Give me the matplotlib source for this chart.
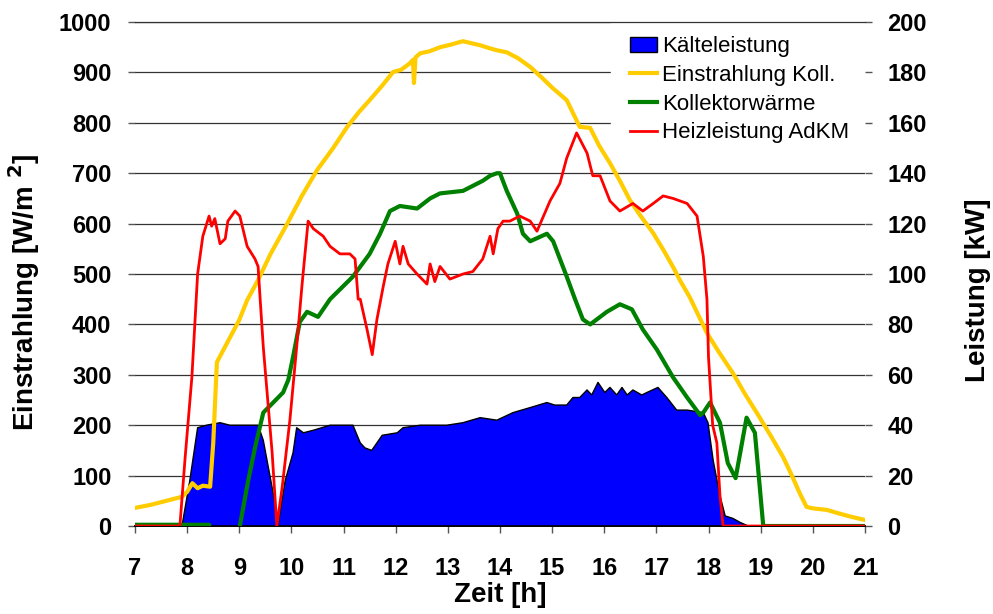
import matplotlib
matplotlib.use('Agg')
import matplotlib.pyplot as plt
from matplotlib.patches import Patch

plt.rcParams['font.family'] = ['Liberation Sans', 'DejaVu Sans']

# ── Daten ─────────────────────────────────────────────────────────────────
# Einstrahlung Koll. [W/m2]
t_irr = [7.0, 7.3, 7.6, 7.9, 8.0, 8.1, 8.2, 8.3, 8.44, 8.5, 8.57, 8.8, 9.0, 9.15,
         9.36, 9.6, 9.92, 10.2, 10.49, 10.8, 11.07, 11.3, 11.5, 11.75, 11.95, 12.1,
         12.27, 12.33, 12.35, 12.38, 12.47, 12.65, 12.85, 13.05, 13.29, 13.45, 13.62,
         13.8, 13.94, 14.13, 14.35, 14.58, 14.8, 15.0, 15.28, 15.53, 15.73, 15.9,
         16.11, 16.3, 16.49, 16.7, 16.94, 17.15, 17.32, 17.45, 17.64, 17.97, 18.2,
         18.47, 18.7, 18.93, 19.2, 19.43, 19.6, 19.75, 19.88, 20.0, 20.27, 20.5,
         20.75, 21.0]
irr = [36, 42, 50, 58, 68, 85, 75, 80, 78, 165, 325, 370, 409, 448,
       488, 540, 600, 655, 706, 750, 792, 822, 845, 875, 901, 905,
       918, 925, 879, 930, 938, 942, 950, 955, 962, 958, 954,
       948, 944, 940, 928, 911, 890, 870, 845, 792, 790, 755,
       720, 685, 647, 615, 581, 545, 514, 488, 454, 383, 345,
       303, 262, 224, 178, 137, 100, 65, 38, 35, 32, 25,
       18, 12]

# Kälteleistung [kW]
t_kalt = [7.0, 7.9, 8.05, 8.2, 8.37, 8.63, 8.82, 9.15, 9.36, 9.46, 9.65, 9.74,
          9.88, 10.03, 10.1, 10.23, 10.42, 10.74, 11.18, 11.32, 11.41, 11.54,
          11.64, 11.74, 12.03, 12.14, 12.47, 12.98, 13.29, 13.62, 13.94, 14.25,
          14.58, 14.9, 15.05, 15.28, 15.4, 15.53, 15.67, 15.76, 15.88, 16.01,
          16.11, 16.24, 16.34, 16.44, 16.55, 16.72, 16.82, 17.03, 17.2, 17.39,
          17.59, 17.9, 17.99, 18.09, 18.22, 18.32, 18.47, 18.6, 18.76, 21.0]
kalt = [0, 0, 18, 39, 40, 41, 40, 40, 40, 34, 13, 0,
        18, 29, 39, 37, 38, 40, 40, 33, 31, 30,
        33, 36, 37, 39, 40, 40, 41, 43, 42, 45,
        47, 49, 48, 48, 51, 51, 54, 52, 57, 53,
        55, 52, 55, 52, 54, 52, 53, 55, 51, 46,
        46, 45, 41, 26, 12, 4, 3, 1.5, 0, 0]

# Kollektorwärme [kW]
t_koll = [7.0, 8.42, 8.46, 8.95, 9.01, 9.17, 9.3, 9.46, 9.65, 9.84, 9.94, 10.03,
          10.16, 10.3, 10.51, 10.74, 11.18, 11.5, 11.7, 11.89, 12.08, 12.41,
          12.66, 12.85, 13.29, 13.48, 13.67, 13.81, 13.94, 14.0, 14.13, 14.33,
          14.44, 14.58, 14.9, 15.02, 15.28, 15.44, 15.59, 15.73, 16.05, 16.3,
          16.53, 16.74, 17.01, 17.32, 17.59, 17.84, 17.9, 18.03, 18.22, 18.37,
          18.52, 18.73, 18.89, 19.05, 21.0]
koll = [0.5, 0.5, -5, -5, 0, 18, 31, 45, 49, 53, 58, 67,
        81, 85, 83, 90, 99, 108, 116, 125, 127, 126,
        130, 132, 133, 135, 137, 139, 140, 140, 133, 124,
        116, 113, 116, 113, 99, 90, 82, 80, 85, 88,
        86, 78, 70, 59, 51, 44, 45, 49, 41, 25,
        19, 43, 37, 0, 0]

# Heizleistung AdKM [kW]
t_heiz = [7.0, 7.86, 7.96, 8.09, 8.2, 8.3, 8.42, 8.47, 8.53, 8.63, 8.73, 8.78,
          8.92, 9.01, 9.15, 9.3, 9.36, 9.4, 9.46, 9.63, 9.72, 9.82, 9.97, 10.1,
          10.2, 10.32, 10.42, 10.61, 10.74, 10.93, 11.12, 11.22, 11.28, 11.32,
          11.45, 11.55, 11.64, 11.76, 11.85, 11.99, 12.08, 12.14, 12.24, 12.41,
          12.6, 12.66, 12.75, 12.85, 13.04, 13.29, 13.48, 13.67, 13.81, 13.87,
          13.96, 14.06, 14.19, 14.38, 14.58, 14.71, 14.96, 15.15, 15.28, 15.47,
          15.67, 15.78, 15.92, 16.11, 16.3, 16.55, 16.74, 16.94, 17.13, 17.32,
          17.59, 17.78, 17.9, 17.97, 18.0, 18.08, 18.16, 18.22, 18.28, 21.0]
heiz = [0, 0, 27, 59, 100, 115, 123, 119, 122, 112, 114, 121,
        125, 123, 111, 106, 103, 90, 71, 29, 0, 15, 42, 71,
        95, 121, 118, 115, 111, 108, 108, 106, 90, 90,
        78, 68, 82, 95, 104, 113, 104, 111, 104, 100,
        96, 104, 97, 103, 98, 100, 101, 106, 115, 108,
        118, 121, 121, 123, 121, 117, 129, 136, 146, 156,
        148, 139, 139, 129, 125, 128, 125, 128, 131, 130,
        128, 123, 107, 90, 67, 40, 33, 12, 0, 0]

x_ticks = list(range(7, 22))
irr_ticks = list(range(0, 1001, 100))
kw_ticks = list(range(0, 201, 20))

GRID = '#333333'

# ── Plot ───────────────────────────────────────────────────────────────────
fig = plt.figure(figsize=(9.93, 6.14), dpi=100)
ax = fig.add_axes([0.136, 0.1433, 0.735, 0.8208])
ax2 = ax.twinx()

ax.set_xlim(7, 21)
ax.set_ylim(0, 1000)
ax2.set_ylim(0, 200)

# Gitter hinten (linke Achse)
ax.set_yticks(irr_ticks)
ax.grid(axis='y', color=GRID, lw=0.9)
ax.set_axisbelow(True)

# alles auf ax2, damit die Reihenfolge wie in Excel bleibt
ax2.fill_between(t_kalt, kalt, 0, facecolor='#0000FF', lw=0, zorder=1)
ax2.plot(t_kalt, kalt, color='black', lw=1.0, zorder=1.5)
ax2.plot(t_irr, irr, color='#FFCC00', lw=3.0, zorder=2, transform=ax.transData)
ax2.plot(t_koll, koll, color='#008000', lw=3.0, zorder=3)
ax2.plot(t_heiz, heiz, color='#FF0000', lw=2.0, zorder=4)

ax2.set_yticks(kw_ticks)
ax.set_xticks(x_ticks)

for a in (ax, ax2):
    for s in ('top', 'left', 'right'):
        a.spines[s].set_visible(False)
    a.spines['bottom'].set_color('black')
    a.spines['bottom'].set_linewidth(1.2)
# oberste Gitterlinie über der Legende
ax2.spines['top'].set_visible(True)
ax2.spines['top'].set_color(GRID)
ax2.spines['top'].set_linewidth(0.9)

ax.tick_params(axis='x', length=5, width=1, color='#555555', pad=17,
               labelsize=17)
ax.tick_params(axis='y', length=5, width=1, color='#555555', pad=12,
               labelsize=17)
ax2.tick_params(axis='y', length=5, width=1, color='#555555', pad=11,
                labelsize=17)
for lab in ax.get_xticklabels() + ax.get_yticklabels() + ax2.get_yticklabels():
    lab.set_fontweight('bold')

ax.set_xlabel('Zeit [h]', fontsize=20, fontweight='bold')
ax.xaxis.set_label_coords(0.5, -0.112)
ax.set_ylabel(r'Einstrahlung [W/m $^{\mathbf{2}}$]', fontsize=20,
              fontweight='bold')
ax.yaxis.set_label_coords(-0.127, 0.464)
ax2.set_ylabel('Leistung [kW]', fontsize=20, fontweight='bold')
ax2.yaxis.set_label_coords(1.137, 0.468)

handles = [
    Patch(facecolor='#0000FF', edgecolor='black', lw=1.0),
    plt.Line2D([], [], color='#FFCC00', lw=3.0),
    plt.Line2D([], [], color='#008000', lw=3.0),
    plt.Line2D([], [], color='#FF0000', lw=2.0),
]
labels = ['Kälteleistung', 'Einstrahlung Koll.', 'Kollektorwärme',
          'Heizleistung AdKM']
leg = ax2.legend(handles, labels, loc='upper left',
                 bbox_to_anchor=(600 / 993, 1 - 6 / 614),
                 bbox_transform=fig.transFigure,
                 frameon=True, fancybox=False, framealpha=1.0, edgecolor='white',
                 fontsize=16, handlelength=1.2, handleheight=0.65,
                 handletextpad=0.25, labelspacing=0.35, borderpad=0.85)
leg.set_zorder(1)

fig.savefig('out.png', dpi=100)
